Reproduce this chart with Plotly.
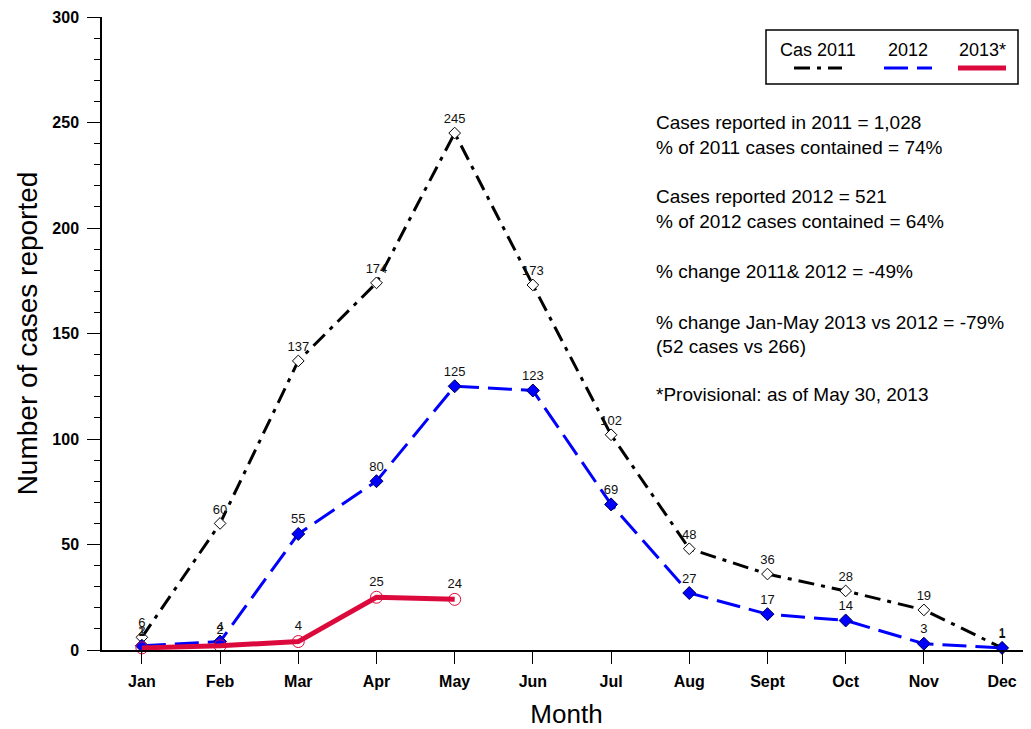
import plotly.graph_objects as go

months = ["Jan", "Feb", "Mar", "Apr", "May", "Jun", "Jul", "Aug", "Sept", "Oct", "Nov", "Dec"]
cases_2011 = [6, 60, 137, 174, 245, 173, 102, 48, 36, 28, 19, 1]
cases_2012 = [2, 4, 55, 80, 125, 123, 69, 27, 17, 14, 3, 1]
cases_2013 = [1, 2, 4, 25, 24]
y_ticks = [0, 50, 100, 150, 200, 250, 300]

notes = [
    ("Cases reported in 2011 = 1,028", 122),
    ("% of 2011 cases contained = 74%", 147),
    ("Cases reported 2012 = 521", 196),
    ("% of 2012 cases contained = 64%", 221),
    ("% change 2011& 2012 = -49%", 271),
    ("% change Jan-May 2013 vs 2012 = -79%", 322),
    ("(52 cases vs 266)", 346),
    ("*Provisional: as of May 30, 2013", 395),
]

FONT = "Liberation Sans, Arial, sans-serif"
x_idx = list(range(len(months)))

S2011 = dict(line=dict(color="black", width=3, dash="16px,7px,4px,7px"),
             marker=dict(symbol="diamond", size=9, color="white", line=dict(color="black", width=1)))
S2012 = dict(line=dict(color="#0000ff", width=3, dash="24px,9px"),
             marker=dict(symbol="diamond", size=10, color="#0000ff", line=dict(color="#000050", width=1)))
S2013 = dict(line=dict(color="#dc0a3c", width=5),
             marker=dict(symbol="circle-open", size=12, color="#dc0a3c", line=dict(width=1)))

fig = go.Figure()
for name, xs, ys, st in [("Cas 2011", x_idx, cases_2011, S2011),
                         ("2012", x_idx, cases_2012, S2012),
                         ("2013*", x_idx[:len(cases_2013)], cases_2013, S2013)]:
    fig.add_trace(go.Scatter(
        x=xs, y=ys, mode="lines+markers+text", name=name,
        text=[str(v) for v in ys], textposition="top center",
        textfont=dict(size=13, color="#111"),
        line=st["line"], marker=st["marker"], cliponaxis=False,
    ))

# plot area in screen pixels (page has 8px body offset)
OFF = 8
L, R, T, B = 102, 1031, 17, 650
W, H = R - L, B - T
def px(x):
    return (x - L) / W
def py(y):
    return (B - y) / H

shapes = [dict(type="rect", xref="paper", yref="paper", x0=px(766), x1=px(1018),
               y0=py(84), y1=py(30), line=dict(color="black", width=1.5), fillcolor="white", layer="above")]
annotations = []
leg = [("Cas 2011", 818, S2011), ("2012", 908, S2012), ("2013*", 982, S2013)]
for name, cx, st in leg:
    annotations.append(dict(xref="paper", yref="paper", x=px(cx), y=py(50), text=name,
                            showarrow=False, font=dict(size=18, color="black", family=FONT),
                            xanchor="center", yanchor="middle"))
    shapes.append(dict(type="line", xref="paper", yref="paper", x0=px(cx - 24), x1=px(cx + 24),
                       y0=py(68), y1=py(68), line=st["line"], layer="above"))
    fig.add_trace(go.Scatter(x=[cx], y=[68], xaxis="x2", yaxis="y2", mode="markers",
                             marker=st["marker"], showlegend=False, hoverinfo="skip"))

for txt, yy in notes:
    annotations.append(dict(xref="paper", yref="paper", x=px(654), y=py(yy), text=txt,
                            showarrow=False, font=dict(size=19, color="black", family=FONT),
                            xanchor="left", yanchor="middle"))

FW, FH = 1031 - OFF, 729 - OFF
fig.update_layout(
    width=FW, height=FH,
    margin=dict(l=L - OFF, r=FW - (R - OFF), t=T - OFF, b=FH - (B - OFF)),
    paper_bgcolor="white", plot_bgcolor="white",
    font=dict(family=FONT, color="black"),
    showlegend=False,
    shapes=shapes, annotations=annotations,
    xaxis=dict(
        range=[-0.51, 11.37], tickvals=x_idx, ticktext=[f"<b>{m}</b>" for m in months],
        ticks="outside", ticklen=12, tickcolor="black", tickwidth=1, ticklabelstandoff=4,
        showline=True, linecolor="black", linewidth=1.5, showgrid=False, zeroline=False,
        tickfont=dict(size=16, color="black"),
        title=dict(text="Month", font=dict(size=26, color="black"), standoff=17),
    ),
    yaxis=dict(
        range=[0, 300], tickvals=y_ticks, ticktext=[f"<b>{v}</b>" for v in y_ticks],
        ticks="outside", ticklen=13, tickcolor="black", tickwidth=1, ticklabelstandoff=5,
        minor=dict(dtick=10, tick0=0, ticks="outside", ticklen=6, tickcolor="black", tickwidth=1),
        showline=True, linecolor="black", linewidth=1.5, showgrid=False, zeroline=False,
        tickfont=dict(size=16, color="black"),
        title=dict(text="Number of cases reported", font=dict(size=28, color="black"), standoff=7),
    ),
    xaxis2=dict(range=[L, R], overlaying="x", visible=False, fixedrange=True),
    yaxis2=dict(range=[B, T], overlaying="y", visible=False, fixedrange=True),
)

fig.write_html("out.html")
